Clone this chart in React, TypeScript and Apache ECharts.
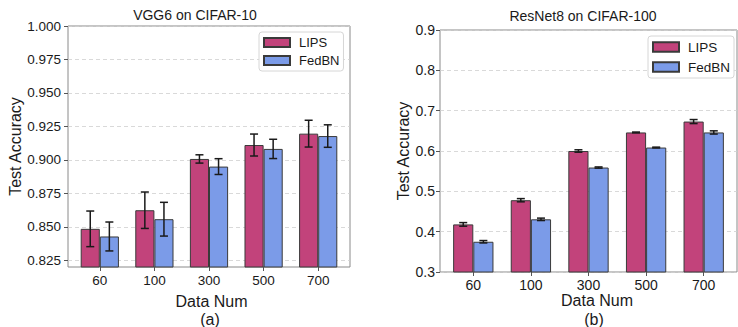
import React, { useEffect, useRef } from "react";
import * as echarts from "echarts";

const categories = ["60", "100", "300", "500", "700"];
const seriesNames = ["LIPS", "FedBN"];

const vggLips = [0.8485, 0.8624, 0.9007, 0.9111, 0.9196];
const vggLipsErr = [0.0133, 0.0136, 0.0031, 0.0082, 0.01];
const vggFedbn = [0.8428, 0.8557, 0.895, 0.9082, 0.9178];
const vggFedbnErr = [0.0108, 0.0126, 0.0059, 0.0072, 0.0084];

const resLips = [0.418, 0.478, 0.6, 0.646, 0.673];
const resLipsErr = [0.0045, 0.004, 0.003, 0.001, 0.005];
const resFedbn = [0.375, 0.4306, 0.559, 0.6086, 0.646];
const resFedbnErr = [0.003, 0.003, 0.0015, 0.001, 0.004];

const vggTicks = [0.825, 0.85, 0.875, 0.9, 0.925, 0.95, 0.975, 1.0];
const resTicks = [0.3, 0.4, 0.5, 0.6, 0.7, 0.8, 0.9];

const FONT = "'Liberation Sans', Arial, Helvetica, sans-serif";
const LIPS_COLOR = "#C2437B";
const FEDBN_COLOR = "#7B9BE8";
const EDGE = "#3a3a3a";
const TEXT = "#1a1a1a";

function errRender(sign: number) {
  return (params: any, api: any) => {
    const idx = api.value(0);
    const v = api.value(1);
    const e = api.value(2);
    const band = api.size([1, 0])[0];
    const x = api.coord([idx, v])[0] + sign * 0.175 * band;
    const yHi = api.coord([idx, v + e])[1];
    const yLo = api.coord([idx, v - e])[1];
    const cap = 4;
    const style = { stroke: "#1a1a1a", lineWidth: 1.5 };
    return {
      type: "group",
      children: [
        { type: "line", shape: { x1: x, y1: yHi, x2: x, y2: yLo }, style },
        { type: "line", shape: { x1: x - cap, y1: yHi, x2: x + cap, y2: yHi }, style },
        { type: "line", shape: { x1: x - cap, y1: yLo, x2: x + cap, y2: yLo }, style },
      ],
    };
  };
}

export default function App() {
  const ref = useRef<HTMLDivElement>(null);
  useEffect(() => {
    if (!ref.current) return;
    const chart = echarts.init(ref.current, undefined, { renderer: "svg" });

    const panels = [
      {
        frame: { left: 68, top: 26, width: 282, height: 241 },
        bars: { left: 72.5, top: 26, width: 273, height: 241 },
        min: 0.82,
        max: 1.0,
        ticks: vggTicks,
        digits: 3,
        tickFont: 13.5,
        labelMargin: 7,
        yNameGap: 44,
        lips: vggLips,
        lipsErr: vggLipsErr,
        fed: vggFedbn,
        fedErr: vggFedbnErr,
        legend: { left: 259, top: 32, font: 13, gap: 5, itemH: 9 },
      },
      {
        frame: { left: 440, top: 30, width: 297, height: 242 },
        bars: { left: 444.5, top: 30, width: 288, height: 242 },
        min: 0.3,
        max: 0.9,
        ticks: resTicks,
        digits: 1,
        tickFont: 14,
        labelMargin: 5,
        yNameGap: 28,
        lips: resLips,
        lipsErr: resLipsErr,
        fed: resFedbn,
        fedErr: resFedbnErr,
        legend: { left: 648, top: 36, font: 13.5, gap: 6, itemH: 9.5 },
      },
    ];

    const grid: any[] = [];
    const xAxis: any[] = [];
    const yAxis: any[] = [];
    const series: any[] = [];
    const legend: any[] = [];

    panels.forEach((p, pi) => {
      const gFrame = grid.length;
      grid.push({ ...p.frame, show: true, borderColor: "#8a8a8a", borderWidth: 1, backgroundColor: "transparent" });
      const gBars = grid.length;
      grid.push({ ...p.bars, show: false });

      xAxis.push({ type: "value", gridIndex: gFrame, min: 0, max: 1, show: false });
      yAxis.push({
        type: "value",
        gridIndex: gFrame,
        min: p.min,
        max: p.max,
        name: "Test Accuracy",
        nameLocation: "middle",
        nameGap: p.yNameGap,
        nameTextStyle: { fontFamily: FONT, fontSize: 16, color: TEXT },
        axisLine: { show: false },
        axisTick: { show: true, length: 4, customValues: p.ticks, lineStyle: { color: "#555", width: 1 } },
        axisLabel: {
          customValues: p.ticks,
          margin: p.labelMargin,
          fontFamily: FONT,
          fontSize: p.tickFont,
          color: TEXT,
          formatter: (v: number) => v.toFixed(p.digits),
        },
        splitLine: { show: true, lineStyle: { color: "#cfcfcf", type: [4, 3], width: 0.8 } },
      });
      const xb = xAxis.length;
      xAxis.push({
        type: "category",
        gridIndex: gBars,
        data: categories,
        boundaryGap: true,
        axisLine: { show: false },
        axisTick: { show: true, alignWithLabel: true, length: 4, lineStyle: { color: "#555" } },
        axisLabel: { fontFamily: FONT, fontSize: p.tickFont, color: TEXT, margin: 6 },
        splitLine: { show: false },
      });
      const yb = yAxis.length;
      yAxis.push({ type: "value", gridIndex: gBars, min: p.min, max: p.max, show: false, splitLine: { show: false } });

      const common = {
        type: "bar",
        xAxisIndex: xb,
        yAxisIndex: yb,
        barWidth: "35%",
        barGap: "0%",
        z: 2,
      };
      series.push({
        ...common,
        name: "LIPS",
        data: p.lips,
        itemStyle: { color: LIPS_COLOR, borderColor: EDGE, borderWidth: 1 },
      });
      series.push({
        ...common,
        name: "FedBN",
        data: p.fed,
        itemStyle: { color: FEDBN_COLOR, borderColor: EDGE, borderWidth: 1 },
      });
      series.push({
        type: "custom",
        name: "LIPS-err-" + pi,
        xAxisIndex: xb,
        yAxisIndex: yb,
        z: 5,
        renderItem: errRender(-1),
        encode: { x: 0, y: 1 },
        data: categories.map((_, i) => [i, p.lips[i], p.lipsErr[i]]),
      });
      series.push({
        type: "custom",
        name: "FedBN-err-" + pi,
        xAxisIndex: xb,
        yAxisIndex: yb,
        z: 5,
        renderItem: errRender(1),
        encode: { x: 0, y: 1 },
        data: categories.map((_, i) => [i, p.fed[i], p.fedErr[i]]),
      });

      legend.push({
        data: seriesNames,
        orient: "vertical",
        left: p.legend.left,
        top: p.legend.top,
        padding: [4, 4, 4, 4],
        itemWidth: 26,
        itemHeight: p.legend.itemH,
        itemGap: p.legend.gap,
        icon: "rect",
        backgroundColor: "#ffffff",
        borderColor: "#d6d6d6",
        borderWidth: 1,
        borderRadius: 3,
        selectedMode: false,
        textStyle: { fontFamily: FONT, fontSize: p.legend.font, color: TEXT, padding: [0, 0, 0, 4] },
        z: 10,
      });
    });

    const textEl = (text: string, x: number, y: number, size: number, lh?: number) => ({
      type: "text",
      x,
      y,
      style: {
        text,
        fontFamily: FONT,
        fontSize: size,
        lineHeight: lh || size,
        fill: TEXT,
        align: "center",
        verticalAlign: "middle",
      },
    });

    chart.setOption({
      animation: false,
      backgroundColor: "#ffffff",
      grid,
      xAxis,
      yAxis,
      series,
      legend,
      graphic: [
        textEl("VGG6 on CIFAR-10", 195, 14.5, 14),
        textEl("ResNet8 on CIFAR-100", 583, 15.5, 14),
        textEl("Data Num", 211.5, 301, 16, 14),
        textEl("Data Num", 597, 300, 16, 14),
        textEl("(a)", 210, 319, 16, 14),
        textEl("(b)", 594, 319, 16, 14),
      ],
    });

    return () => chart.dispose();
  }, []);

  return (
    <div
      ref={ref}
      style={{ position: "fixed", left: 0, top: 0, width: 738, height: 327, background: "#fff" }}
    />
  );
}
